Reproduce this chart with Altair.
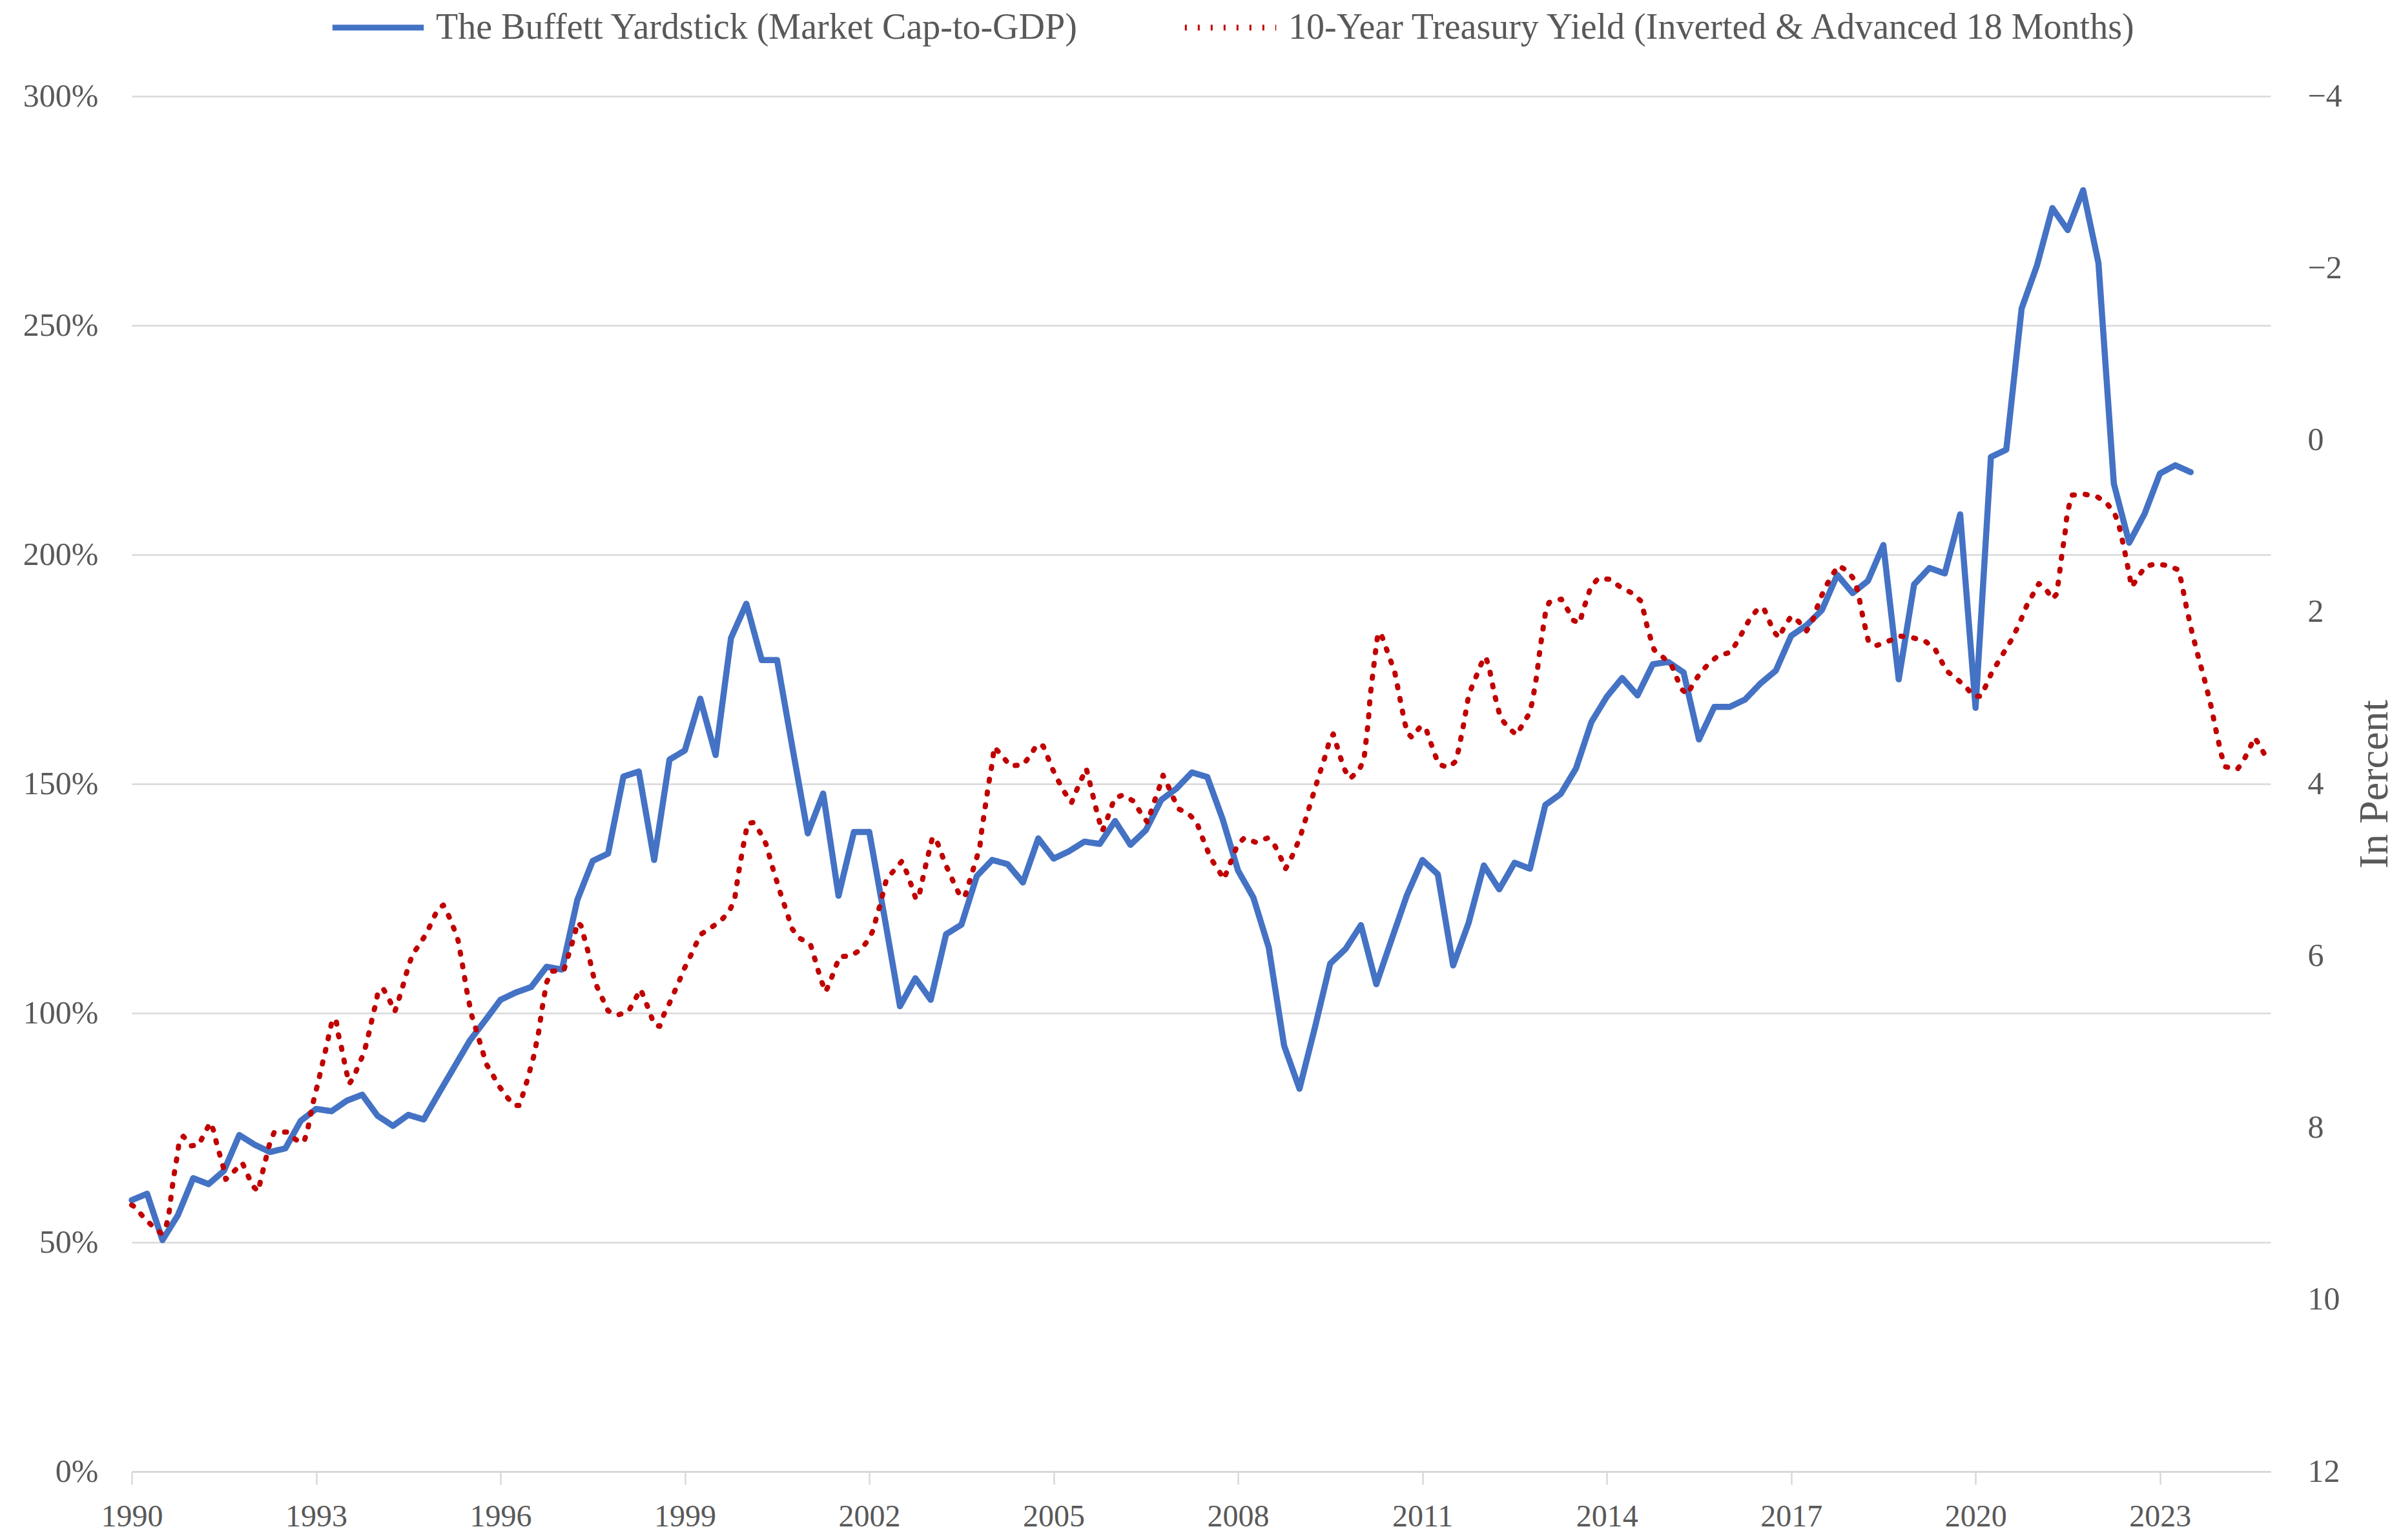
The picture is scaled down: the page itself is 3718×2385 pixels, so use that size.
import altair as alt
import pandas as pd

FONT = "Liberation Serif"
TEXT = "#595959"
GRID = "#D9D9D9"
BLUE = "#4472C4"
RED = "#C00000"

SERIES = [
    "The Buffett Yardstick (Market Cap-to-GDP)",
    "10-Year Treasury Yield (Inverted & Advanced 18 Months)",
]

# Quarterly Buffett indicator (% of GDP), starting 1990 Q1
buffett_start = 1990.0
buffett_values = [
    59.2, 60.6, 50.5, 55.9, 64.0, 62.7, 65.6, 73.4, 71.3, 69.7, 70.5, 76.5,
    79.1, 78.6, 80.9, 82.2, 77.6, 75.4, 77.8, 76.8, 82.6, 88.3, 94.0, 98.4,
    102.9, 104.5, 105.7, 110.1, 109.5, 124.7, 133.2, 134.8, 151.6, 152.7, 133.4, 155.3,
    157.3, 168.6, 156.3, 181.8, 189.3, 177.0, 177.0, 157.9, 139.2, 147.9, 125.6, 139.5,
    139.5, 120.8, 101.5, 107.6, 102.9, 117.2, 119.3, 129.9, 133.4, 132.5, 128.5, 138.1,
    133.7, 135.3, 137.4, 136.9, 141.9, 136.7, 139.9, 146.5, 149.0, 152.5, 151.5, 142.3,
    131.1, 125.2, 114.3, 92.9, 83.5, 96.8, 110.8, 114.0, 119.2, 106.3, 116.1, 125.8,
    133.4, 130.3, 110.4, 119.6, 132.2, 127.0, 132.8, 131.5, 145.4, 147.8, 153.4, 163.5,
    169.0, 173.1, 169.3, 176.1, 176.6, 174.3, 159.7, 166.8, 166.8, 168.4, 171.9, 174.7,
    182.3, 184.6, 187.9, 195.6, 191.6, 194.3, 202.1, 172.8, 193.5, 197.1, 195.9, 208.8,
    166.6, 221.3, 222.9, 253.7, 263.1, 275.6, 270.8, 279.5, 263.6, 215.5, 202.6, 208.9,
    217.7, 219.5, 218.0,
]

# 10-year yield (%), shifted forward 18 months (decimal year, value)
treasury_years = [
    1990.00, 1990.05, 1990.19, 1990.33, 1990.48, 1990.55, 1990.60, 1990.65, 1990.68, 1990.71,
    1990.75, 1990.77, 1990.84, 1990.97, 1991.09, 1991.18, 1991.28, 1991.33, 1991.38, 1991.49,
    1991.53, 1991.66, 1991.80, 1991.88, 1991.97, 1992.06, 1992.10, 1992.20, 1992.25, 1992.32,
    1992.53, 1992.67, 1992.80, 1992.86, 1992.94, 1993.04, 1993.13, 1993.18, 1993.22, 1993.27,
    1993.33, 1993.36, 1993.41, 1993.45, 1993.49, 1993.54, 1993.62, 1993.69, 1993.78, 1993.83,
    1993.88, 1993.92, 1993.97, 1994.01, 1994.09, 1994.19, 1994.28, 1994.34, 1994.40, 1994.51,
    1994.58, 1994.70, 1994.81, 1994.89, 1994.98, 1995.07, 1995.16, 1995.24, 1995.31, 1995.38,
    1995.45, 1995.53, 1995.65, 1995.77, 1995.87, 1995.97, 1996.09, 1996.22, 1996.31, 1996.37,
    1996.43, 1996.54, 1996.62, 1996.68, 1996.75, 1996.83, 1997.03, 1997.09, 1997.21, 1997.25,
    1997.31, 1997.42, 1997.51, 1997.57, 1997.75, 1997.90, 1998.08, 1998.18, 1998.28, 1998.36,
    1998.43, 1998.50, 1998.59, 1998.66, 1998.75, 1998.83, 1998.91, 1998.99, 1999.08, 1999.17,
    1999.26, 1999.43, 1999.59, 1999.73, 1999.81, 1999.87, 1999.94, 2000.02, 2000.11, 2000.22,
    2000.32, 2000.43, 2000.55, 2000.68, 2000.74, 2000.85, 2001.04, 2001.10, 2001.16, 2001.22,
    2001.29, 2001.37, 2001.44, 2001.52, 2001.70, 2001.86, 2001.99, 2002.07, 2002.12, 2002.18,
    2002.23, 2002.28, 2002.41, 2002.53, 2002.61, 2002.68, 2002.75, 2002.80, 2002.84, 2002.93,
    2003.03, 2003.09, 2003.16, 2003.23, 2003.32, 2003.40, 2003.49, 2003.56, 2003.62, 2003.68,
    2003.74, 2003.80, 2003.82, 2003.88, 2003.94, 2004.01, 2004.03, 2004.16, 2004.29, 2004.50,
    2004.62, 2004.73, 2004.83, 2004.91, 2004.99, 2005.08, 2005.18, 2005.29, 2005.37, 2005.45,
    2005.53, 2005.58, 2005.63, 2005.68, 2005.73, 2005.79, 2005.85, 2005.92, 2005.99, 2006.12,
    2006.30, 2006.41, 2006.53, 2006.58, 2006.65, 2006.72, 2006.78, 2006.86, 2006.94, 2007.03,
    2007.20, 2007.33, 2007.40, 2007.48, 2007.55, 2007.67, 2007.77, 2007.84, 2007.92, 2007.99,
    2008.10, 2008.29, 2008.48, 2008.60, 2008.69, 2008.77, 2008.85, 2008.93, 2009.01, 2009.07,
    2009.19, 2009.31, 2009.44, 2009.49, 2009.55, 2009.61, 2009.67, 2009.74, 2009.82, 2009.97,
    2010.05, 2010.12, 2010.15, 2010.20, 2010.25, 2010.28, 2010.34, 2010.41, 2010.48, 2010.55,
    2010.63, 2010.71, 2010.76, 2010.83, 2010.96, 2011.05, 2011.12, 2011.19, 2011.26, 2011.42,
    2011.54, 2011.59, 2011.67, 2011.74, 2011.80, 2011.88, 2011.96, 2012.03, 2012.09, 2012.17,
    2012.27, 2012.39, 2012.53, 2012.63, 2012.74, 2012.79, 2012.86, 2012.91, 2012.97, 2013.00,
    2013.06, 2013.26, 2013.36, 2013.46, 2013.56, 2013.61, 2013.68, 2013.74, 2013.86, 2014.05,
    2014.22, 2014.41, 2014.55, 2014.61, 2014.65, 2014.71, 2014.77, 2014.92, 2015.06, 2015.14,
    2015.22, 2015.31, 2015.41, 2015.52, 2015.66, 2015.81, 2016.01, 2016.12, 2016.22, 2016.32,
    2016.45, 2016.55, 2016.63, 2016.71, 2016.80, 2016.89, 2017.00, 2017.12, 2017.25, 2017.34,
    2017.40, 2017.47, 2017.56, 2017.65, 2017.77, 2017.93, 2018.04, 2018.09, 2018.17, 2018.26,
    2018.39, 2018.58, 2018.77, 2018.98, 2019.18, 2019.34, 2019.43, 2019.52, 2019.68, 2019.84,
    2019.97, 2020.09, 2020.18, 2020.26, 2020.37, 2020.47, 2020.58, 2020.67, 2020.75, 2020.83,
    2020.93, 2021.03, 2021.14, 2021.25, 2021.32, 2021.35, 2021.40, 2021.46, 2021.48, 2021.52,
    2021.57, 2021.77, 2021.98, 2022.13, 2022.26, 2022.33, 2022.42, 2022.50, 2022.54, 2022.64,
    2022.76, 2022.93, 2023.13, 2023.30, 2023.35, 2023.43, 2023.52, 2023.62, 2023.73, 2023.83,
    2023.91, 2024.00, 2024.06, 2024.26, 2024.36, 2024.45, 2024.54, 2024.62, 2024.72,
]
treasury_values = [
    8.90, 8.92, 9.04, 9.14, 9.23, 9.17, 9.03, 8.74, 8.59, 8.45,
    8.29, 8.16, 8.10, 8.21, 8.20, 8.07, 7.94, 8.03, 8.18, 8.46,
    8.60, 8.51, 8.41, 8.54, 8.68, 8.74, 8.60, 8.31, 8.17, 8.05,
    8.05, 8.14, 8.17, 8.03, 7.74, 7.45, 7.17, 7.02, 6.88, 6.73,
    6.77, 6.91, 7.06, 7.20, 7.34, 7.49, 7.40, 7.27, 7.13, 6.98,
    6.84, 6.70, 6.56, 6.41, 6.38, 6.51, 6.65, 6.52, 6.38, 6.10,
    5.97, 5.85, 5.72, 5.59, 5.46, 5.41, 5.54, 5.68, 5.82, 6.10,
    6.40, 6.69, 6.97, 7.26, 7.38, 7.51, 7.63, 7.74, 7.74, 7.60,
    7.46, 7.17, 6.89, 6.60, 6.31, 6.18, 6.17, 6.03, 5.75, 5.61,
    5.65, 5.94, 6.23, 6.36, 6.64, 6.69, 6.65, 6.52, 6.39, 6.53,
    6.66, 6.80, 6.82, 6.68, 6.55, 6.42, 6.29, 6.15, 6.02, 5.88,
    5.75, 5.67, 5.59, 5.47, 5.34, 5.05, 4.76, 4.46, 4.45, 4.56,
    4.70, 4.98, 5.26, 5.54, 5.68, 5.79, 5.86, 6.00, 6.15, 6.29,
    6.42, 6.29, 6.15, 6.01, 6.00, 5.93, 5.81, 5.69, 5.54, 5.40,
    5.25, 5.11, 5.00, 4.90, 5.03, 5.17, 5.32, 5.34, 5.20, 4.91,
    4.62, 4.65, 4.78, 4.92, 5.06, 5.19, 5.32, 5.30, 5.16, 5.02,
    4.88, 4.73, 4.59, 4.30, 4.01, 3.72, 3.57, 3.67, 3.79, 3.78,
    3.67, 3.54, 3.56, 3.70, 3.84, 3.97, 4.10, 4.22, 4.08, 3.95,
    3.82, 3.96, 4.11, 4.26, 4.40, 4.55, 4.45, 4.31, 4.17, 4.13,
    4.20, 4.33, 4.45, 4.33, 4.18, 4.04, 3.90, 4.02, 4.15, 4.29,
    4.35, 4.45, 4.59, 4.73, 4.86, 4.99, 5.11, 4.98, 4.84, 4.71,
    4.63, 4.68, 4.63, 4.72, 4.85, 4.99, 4.89, 4.76, 4.62, 4.48,
    4.20, 3.92, 3.63, 3.49, 3.42, 3.56, 3.70, 3.84, 3.94, 3.84,
    3.71, 3.27, 2.98, 2.68, 2.39, 2.24, 2.28, 2.42, 2.56, 2.70,
    2.99, 3.28, 3.41, 3.46, 3.34, 3.34, 3.49, 3.63, 3.77, 3.81,
    3.74, 3.60, 3.31, 3.02, 2.88, 2.74, 2.60, 2.52, 2.66, 2.95,
    3.23, 3.34, 3.43, 3.31, 3.18, 3.04, 2.74, 2.45, 2.16, 2.02,
    1.89, 1.85, 1.97, 2.10, 2.13, 1.99, 1.84, 1.71, 1.61, 1.62,
    1.71, 1.78, 1.87, 2.02, 2.15, 2.30, 2.44, 2.53, 2.63, 2.77,
    2.90, 2.96, 2.83, 2.71, 2.60, 2.51, 2.47, 2.35, 2.22, 2.09,
    1.97, 1.95, 2.08, 2.22, 2.30, 2.17, 2.05, 2.11, 2.22, 2.12,
    1.99, 1.85, 1.71, 1.59, 1.46, 1.53, 1.64, 1.78, 2.07, 2.35,
    2.39, 2.34, 2.28, 2.30, 2.34, 2.43, 2.55, 2.68, 2.77, 2.87,
    2.98, 2.98, 2.84, 2.71, 2.58, 2.46, 2.33, 2.20, 2.07, 1.93,
    1.80, 1.67, 1.73, 1.85, 1.79, 1.64, 1.36, 1.06, 0.92, 0.77,
    0.64, 0.63, 0.66, 0.73, 0.85, 0.98, 1.27, 1.56, 1.71, 1.60,
    1.47, 1.44, 1.46, 1.51, 1.65, 1.94, 2.23, 2.51, 2.80, 3.09,
    3.37, 3.66, 3.80, 3.83, 3.73, 3.60, 3.46, 3.55, 3.68,
]

year_ticks = [1990, 1993, 1996, 1999, 2002, 2005, 2008, 2011, 2014, 2017, 2020, 2023]
pct_ticks = [0, 50, 100, 150, 200, 250, 300]
yield_ticks = [-4, -2, 0, 2, 4, 6, 8, 10, 12]

buffett_df = pd.DataFrame({
    "year": [buffett_start + 0.25 * i for i in range(len(buffett_values))],
    "value": buffett_values,
    "series": SERIES[0],
})
treasury_df = pd.DataFrame({
    "year": treasury_years,
    "value": treasury_values,
    "series": SERIES[1],
})

x_enc = alt.X(
    "year:Q",
    scale=alt.Scale(domain=[1990, 2024.8], nice=False, zero=False),
    axis=alt.Axis(
        values=year_ticks, format="d", grid=False,
        domain=True, domainColor=GRID, domainWidth=3,
        ticks=True, tickColor=GRID, tickWidth=2.5, tickSize=20,
        labelPadding=26, labelFont=FONT, labelFontSize=48, labelColor=TEXT,
        labelFlush=False, title=None,
    ),
)

color_enc = alt.Color(
    "series:N", title=None,
    scale=alt.Scale(domain=SERIES, range=[BLUE, RED]),
)
dash_enc = alt.StrokeDash(
    "series:N", title=None,
    scale=alt.Scale(domain=SERIES, range=[[1, 0], [3, 17]]),
)

blue = alt.Chart(buffett_df).mark_line(
    strokeWidth=9.5, strokeJoin="round", strokeCap="round"
).encode(
    x=x_enc,
    y=alt.Y(
        "value:Q",
        scale=alt.Scale(domain=[0, 300], nice=False),
        axis=alt.Axis(
            values=pct_ticks, labelExpr="datum.value + '%'", orient="left",
            grid=True, gridColor=GRID, gridWidth=2.5,
            domain=False, ticks=False, tickSize=0, labelPadding=52,
            labelFont=FONT, labelFontSize=50, labelColor=TEXT, title=None,
        ),
    ),
    color=color_enc,
    strokeDash=dash_enc,
)

red = alt.Chart(treasury_df).mark_line(
    strokeWidth=8, strokeJoin="round", strokeCap="round"
).encode(
    x=x_enc,
    y=alt.Y(
        "value:Q",
        scale=alt.Scale(domain=[-4, 12], reverse=True, nice=False, zero=False),
        axis=alt.Axis(
            values=yield_ticks, orient="right", grid=False,
            domain=False, ticks=False, tickSize=0, labelPadding=57, labelAlign="left",
            labelFont=FONT, labelFontSize=50, labelColor=TEXT,
            title="In Percent", titleFont=FONT, titleFontSize=64, titleColor=TEXT,
            titleFontWeight="normal", titleAngle=270, titleX=161, titleY=1065,
            titleAlign="center", titleBaseline="middle",
        ),
    ),
    color=color_enc,
    strokeDash=dash_enc,
)

chart = alt.layer(blue, red).resolve_scale(
    y="independent"
).properties(
    width=3312, height=2130,
    autosize=alt.AutoSizeParams(type="none"),
    padding={"left": 196, "top": 141, "right": 194, "bottom": 96},
    background="white",
).configure_view(
    stroke=None
).configure_legend(
    orient="none", legendX=306, legendY=-182, direction="horizontal",
    labelFont=FONT, labelFontSize=56, labelColor=TEXT, labelLimit=3000,
    labelOffset=14, symbolType="stroke", symbolSize=20000, symbolStrokeWidth=9,
    columnPadding=146, padding=0, rowPadding=0,
)

chart.save("out.html", embed_options={"renderer": "svg", "actions": False})
